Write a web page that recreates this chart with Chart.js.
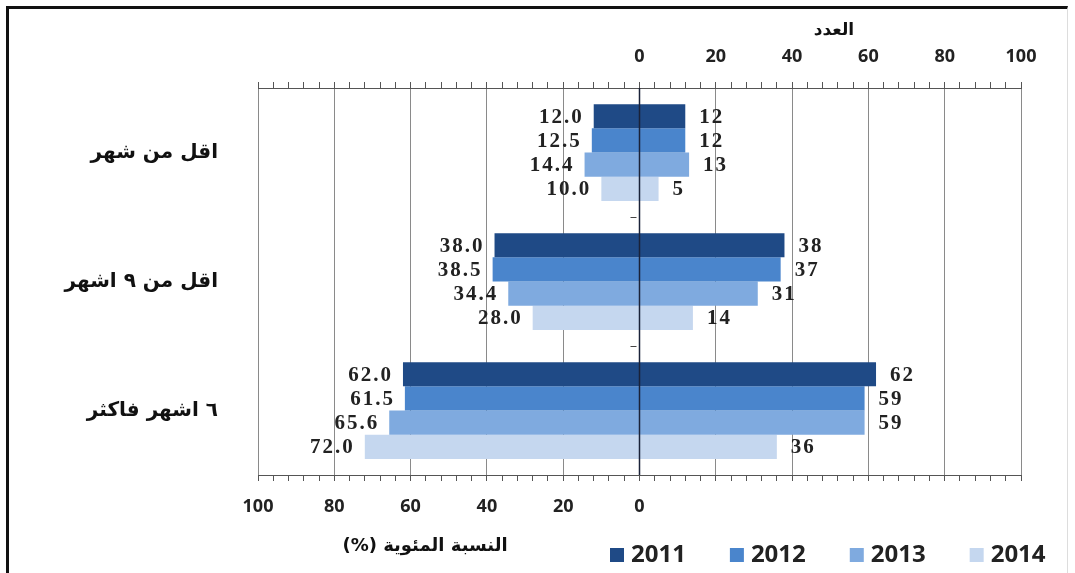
<!DOCTYPE html>
<html lang="ar">
<head>
<meta charset="utf-8">
<script src="https://cdn.jsdelivr.net/npm/chart.js@4/dist/chart.umd.min.js"></script>
<style>
    html, body { margin: 0; padding: 0; background: #fff; }
    #frame {
        position: absolute; left: 6px; top: 6px; width: 1058px; height: 600px;
        border-left: 3px solid #111; border-top: 3px solid #111; border-right: 1px solid #ddd;
    }
    #wrap { position: absolute; left: 0; top: 0; width: 1075px; height: 573px; }
</style>
</head>
<body>
<div id="frame"></div>
<div id="wrap"><canvas id="chart"></canvas></div>
<script>
// Kategorien und Jahre
const categories = ['اقل من شهر', 'اقل من ٩ اشهر', '٦ اشهر فاكثر'];
const years = ['2011', '2012', '2013', '2014'];

// Prozentwerte (linke Seite)
const pct2011 = [12.0, 38.0, 62.0];
const pct2012 = [12.5, 38.5, 61.5];
const pct2013 = [14.4, 34.4, 65.6];
const pct2014 = [10.0, 28.0, 72.0];

// Anzahl (rechte Seite)
const cnt2011 = [12, 38, 62];
const cnt2012 = [12, 37, 59];
const cnt2013 = [13, 31, 59];
const cnt2014 = [5, 14, 36];

const pctTicks = [0, 20, 40, 60, 80, 100];
const cntTicks = [0, 20, 40, 60, 80, 100];

const pctTitle = 'النسبة المئوية (%)';
const cntTitle = 'العدد';

const colors = ['#1F4A86', '#4A85CC', '#7FAADF', '#C5D7EF'];
const pctSeries = [pct2011, pct2012, pct2013, pct2014];
const cntSeries = [cnt2011, cnt2012, cnt2013, cnt2014];

const datasets = years.map((y, k) => ({
    label: y,
    pct: pctSeries[k],
    cnt: cntSeries[k],
    data: categories.map((c, i) => [-pctSeries[k][i], cntSeries[k][i]]),
    backgroundColor: colors[k],
    borderWidth: 0,
    barPercentage: 1.0,
    categoryPercentage: 0.75
}));

const isMajor = v => Math.abs(v) % 20 === 0;

const drawExtras = {
    id: 'drawExtras',
    afterDatasetsDraw(chart) {
        const ctx = chart.ctx;
        const xs = chart.scales.x;
        const ys = chart.scales.y;
        ctx.save();
        // Zentrallinie
        ctx.strokeStyle = '#1a2238';
        ctx.lineWidth = 1.5;
        ctx.beginPath();
        ctx.moveTo(xs.getPixelForValue(0), chart.chartArea.top);
        ctx.lineTo(xs.getPixelForValue(0), chart.chartArea.bottom);
        ctx.stroke();
        // Kategorie-Trennstriche
        ctx.strokeStyle = '#444';
        ctx.lineWidth = 1;
        [0.5, 1.5].forEach(v => {
            const py = Math.round(ys.getPixelForValue(v)) + 0.5;
            ctx.beginPath();
            ctx.moveTo(xs.getPixelForValue(0) - 9, py);
            ctx.lineTo(xs.getPixelForValue(0) - 3, py);
            ctx.stroke();
        });
        // Datenbeschriftungen
        ctx.font = 'bold 21px "Liberation Serif"';
        ctx.letterSpacing = '2px';
        ctx.fillStyle = '#222';
        ctx.textBaseline = 'middle';
        chart.data.datasets.forEach((ds, di) => {
            const meta = chart.getDatasetMeta(di);
            meta.data.forEach((bar, i) => {
                const y = bar.y + 1;
                ctx.textAlign = 'right';
                ctx.fillText(ds.pct[i].toFixed(1), xs.getPixelForValue(-ds.pct[i]) - 10, y);
                ctx.textAlign = 'left';
                ctx.fillText(String(ds.cnt[i]), xs.getPixelForValue(ds.cnt[i]) + 14, y);
            });
        });
        ctx.restore();
    },
    afterDraw(chart) {
        const ctx = chart.ctx;
        ctx.save();
        ctx.fillStyle = '#111';
        ctx.textBaseline = 'middle';
        ctx.textAlign = 'center';
        ctx.direction = 'rtl';
        ctx.font = 'bold 17px "DejaVu Sans"';
        ctx.fillText(cntTitle, 834, 31);
        ctx.font = 'bold 18px "DejaVu Sans"';
        ctx.fillText(pctTitle, 425, 546);
        ctx.direction = 'ltr';
        // Legende
        let x = 610;
        ctx.font = 'bold 24px "Open Sans"';
        ctx.textAlign = 'left';
        chart.data.datasets.forEach(ds => {
            ctx.fillStyle = ds.backgroundColor;
            ctx.fillRect(x, 548, 14, 14);
            ctx.fillStyle = '#222';
            ctx.fillText(ds.label, x + 21, 555);
            x += 14 + 21 + ctx.measureText(ds.label).width + 30;
        });
        ctx.restore();
    }
};

const ctx = document.getElementById('chart').getContext('2d');
new Chart(ctx, {
    type: 'bar',
    data: { labels: categories, datasets: datasets },
    plugins: [drawExtras],
    options: {
        indexAxis: 'y',
        responsive: true,
        maintainAspectRatio: false,
        animation: false,
        layout: { padding: { left: 8, top: 8, right: 54, bottom: 8 } },
        plugins: {
            legend: { display: false },
            tooltip: { enabled: false }
        },
        scales: {
            x: {
                position: 'bottom',
                min: -100,
                max: 100,
                afterFit: s => { s.height = 90; },
                border: { color: '#555', width: 1 },
                grid: {
                    color: c => isMajor(c.tick.value) ? '#8a8a8a' : 'rgba(0,0,0,0)',
                    tickColor: '#555',
                    tickLength: 6
                },
                ticks: {
                    stepSize: 4,
                    autoSkip: false,
                    maxRotation: 0,
                    padding: 15,
                    color: '#222',
                    font: { family: 'Open Sans', weight: 'bold', size: 18 },
                    callback: v => (v <= 0 && pctTicks.includes(-v)) ? String(-v) : ''
                }
            },
            x2: {
                position: 'top',
                min: -100,
                max: 100,
                afterFit: s => { s.height = 80; },
                border: { color: '#555', width: 1 },
                grid: {
                    drawOnChartArea: false,
                    tickColor: '#555',
                    tickLength: 6
                },
                ticks: {
                    stepSize: 4,
                    autoSkip: false,
                    maxRotation: 0,
                    padding: 14,
                    color: '#222',
                    font: { family: 'Open Sans', weight: 'bold', size: 18 },
                    callback: v => (v >= 0 && cntTicks.includes(v)) ? String(v) : ''
                }
            },
            y: {
                afterFit: s => { s.width = 250; },
                border: { display: false },
                grid: { display: false },
                ticks: {
                    padding: 32,
                    color: '#111',
                    font: { family: 'DejaVu Sans', weight: 'bold', size: 20 }
                }
            }
        }
    }
});
</script>
</body>
</html>
